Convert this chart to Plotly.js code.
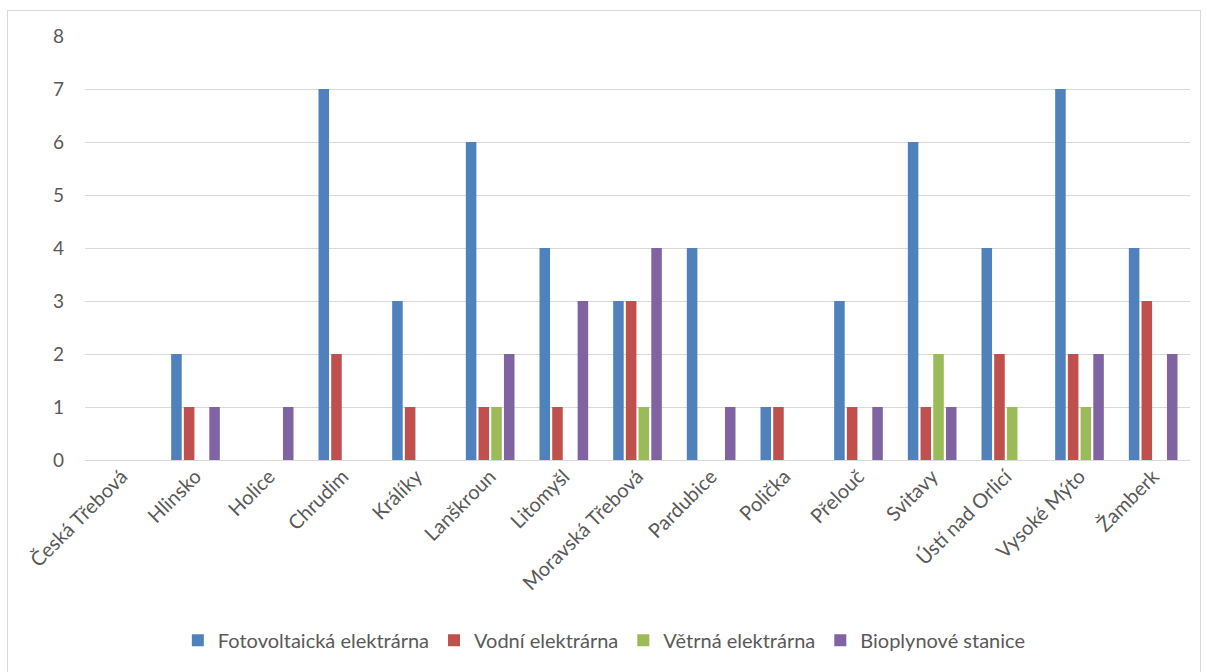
<!DOCTYPE html>
<html>
<head>
<meta charset="utf-8">
<script src="https://cdn.plot.ly/plotly-3.0.1.min.js"></script>
<style>
html,body{margin:0;padding:0;background:#fff;}
#frame{position:absolute;left:7px;top:10px;width:1194px;height:670px;border:1px solid #d9d9d9;box-sizing:border-box;}
#chart{position:absolute;left:0;top:0;width:1207px;height:672px;}
</style>
</head>
<body>
<div id="frame"></div>
<div id="chart"></div>
<script>
const categories = ["Česká Třebová","Hlinsko","Holice","Chrudim","Králíky","Lanškroun","Litomyšl","Moravská Třebová","Pardubice","Polička","Přelouč","Svitavy","Ústí nad Orlicí","Vysoké Mýto","Žamberk"];
const fotovoltaicka = [0,2,0,7,3,6,4,3,4,1,3,6,4,7,4];
const vodni = [0,1,0,2,1,1,1,3,0,1,1,1,2,2,3];
const vetrna = [0,0,0,0,0,1,0,1,0,0,0,2,1,1,0];
const bioplynove = [0,1,1,0,0,2,3,4,1,0,1,1,0,2,2];
const seriesNames = ["Fotovoltaická elektrárna","Vodní elektrárna","Větrná elektrárna","Bioplynové stanice"];
const yTicks = [0,1,2,3,4,5,6,7,8];

const colors = ["#4f81bd","#c0504d","#9bbb59","#8064a2"];
const values = [fotovoltaicka, vodni, vetrna, bioplynove];
const traces = values.map((v,i)=>({
  type:"bar", x:categories, y:v, name:seriesNames[i],
  marker:{color:colors[i]}, hoverinfo:"x+y+name"
}));
const font = "Lato, 'Open Sans', sans-serif";
Plotly.newPlot("chart", traces, {
  width:1207, height:672,
  margin:{l:85,r:17,t:36,b:212},
  paper_bgcolor:"rgba(0,0,0,0)", plot_bgcolor:"rgba(0,0,0,0)",
  barmode:"group", bargap:0.31, bargroupgap:0.17,
  font:{family:font, color:"#595959", size:18},
  xaxis:{tickangle:-45, tickfont:{size:20,color:"#595959"}, showgrid:false, zeroline:false,
         showline:false, ticks:"", automargin:false},
  yaxis:{range:[0,8], tickvals:yTicks, ticktext:yTicks.map(String), gridcolor:"#d9d9d9", gridwidth:1,
         zeroline:true, zerolinecolor:"#d9d9d9", showline:false, ticks:"", ticklabelstandoff:20,
         tickfont:{size:19,color:"#595959"}, automargin:false},
  showlegend:true,
  legend:{orientation:"h", x:0.47, xanchor:"center", y:-0.425, yanchor:"middle",
          font:{size:20,color:"#595959"}, itemwidth:30, traceorder:"normal"}
}, {displayModeBar:false, staticPlot:true});
</script>
</body>
</html>
